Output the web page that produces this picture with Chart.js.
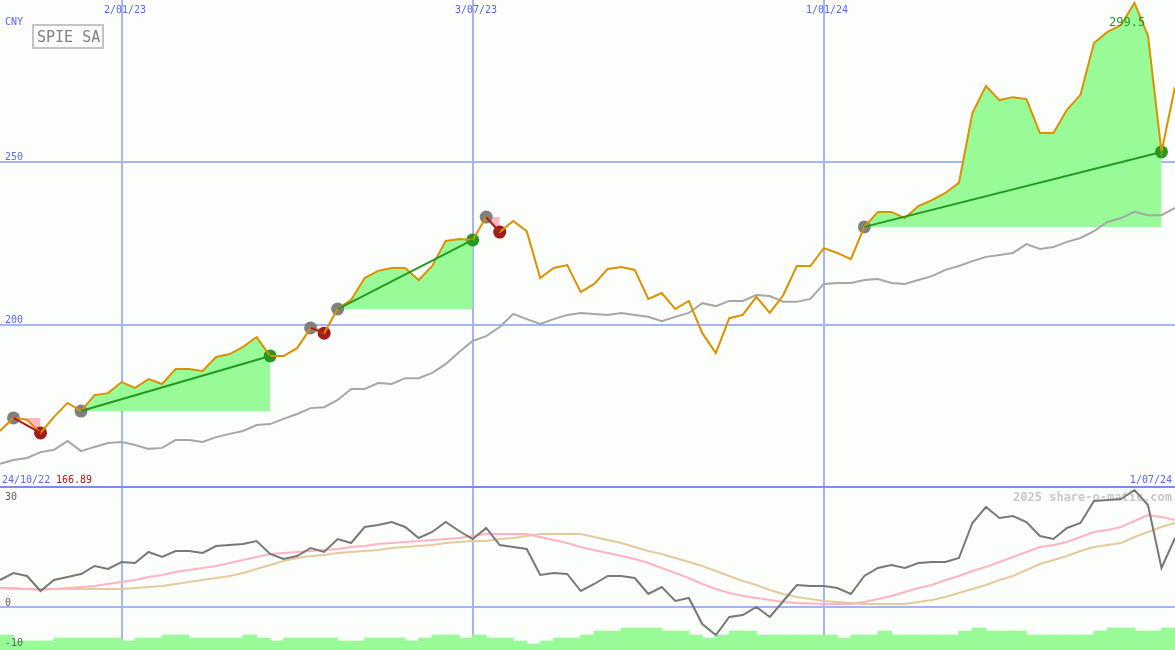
<!DOCTYPE html>
<html>
<head>
<meta charset="utf-8">
<title>SPIE SA</title>
<script src="https://cdn.jsdelivr.net/npm/chart.js"></script>
<style>
  html, body { margin: 0; padding: 0; background: #fcfefc; }
  #wrap { position: relative; width: 1175px; height: 650px; }
  canvas { display: block; }
</style>
</head>
<body>
<div id="wrap"><canvas id="chart" width="1175" height="650"></canvas></div>
<script>
// weekly data, week 0 = 31/10/22 ... week 87 = 1/07/24
const price = [
  167.5, 171.5, 170.9, 166.89, 171.8, 176.1, 173.6, 178.5, 179.1, 182.5,
  180.7, 183.4, 181.9, 186.5, 186.5, 185.9, 190.2, 191.1, 193.3, 196.3,
  190.5, 190.5, 192.9, 199.1, 197.5, 204.9, 207.7, 214.4, 216.6, 217.5,
  217.5, 213.8, 218.1, 225.8, 226.4, 226.1, 233.1, 228.5, 231.9, 228.8,
  214.4, 217.5, 218.4, 210.1, 212.6, 217.2, 217.8, 216.9, 208.0, 209.8,
  204.9, 207.4, 197.5, 191.4, 202.1, 203.1, 208.6, 203.7, 209.2, 218.1,
  218.1, 223.6, 222.1, 220.2, 230.1, 234.7, 234.7, 232.8, 236.5, 238.3,
  240.5, 243.6, 265.0, 273.3, 269.0, 269.9, 269.3, 258.9, 258.9, 266.0,
  270.6, 286.5, 289.9, 292.0, 298.8, 288.7, 253.1, 273.0
];
// grey comparison line
const avg = [
  157.4, 158.6, 159.2, 161.0, 161.7, 164.4, 161.3, 162.6, 163.8, 164.1,
  163.2, 162.0, 162.3, 164.7, 164.7, 164.1, 165.6, 166.6, 167.5, 169.3,
  169.6, 171.2, 172.7, 174.5, 174.8, 177.0, 180.4, 180.4, 182.2, 181.9,
  183.7, 183.7, 185.3, 188.0, 191.7, 195.1, 196.6, 199.4, 203.4, 201.8,
  200.3, 201.8, 203.1, 203.7, 203.4, 203.1, 203.7, 203.1, 202.5, 201.2,
  202.5, 203.7, 206.7, 205.8, 207.4, 207.4, 209.2, 208.9, 207.1, 207.1,
  208.0, 212.6, 212.9, 212.9, 213.8, 214.1, 212.9, 212.6, 213.8, 215.0,
  216.9, 218.1, 219.6, 220.9, 221.5, 222.1, 224.8, 223.3, 223.9, 225.5,
  226.7, 228.8, 231.6, 232.8, 234.7, 233.7, 233.7, 235.9
];
// lower panel
const osc = [
  6.75, 8.5, 7.75, 4.0, 6.75, 7.5, 8.25, 10.25, 9.5, 11.25,
  11.0, 13.75, 12.5, 14.0, 14.0, 13.5, 15.25, 15.5, 15.75, 16.5,
  13.25, 12.0, 12.75, 14.75, 13.75, 17.0, 16.0, 20.0, 20.5, 21.25,
  20.0, 17.25, 18.75, 21.25, 19.0, 17.0, 19.75, 15.5, 15.0, 14.5,
  8.0, 8.5, 8.25, 4.0, 5.75, 7.75, 7.75, 7.25, 3.25, 5.0,
  1.5, 2.25, -4.25, -7.0, -2.5, -2.0, 0, -2.5, 1.5, 5.5,
  5.25, 5.25, 4.75, 3.25, 7.75, 9.75, 10.5, 9.75, 11.0, 11.25,
  11.25, 12.25, 21.0, 25.0, 22.25, 22.75, 21.25, 17.75, 17.0, 19.75,
  21.0, 26.5, 26.75, 27.0, 29.25, 25.5, 9.75, 17.25
];
const oscFast = [
  4.75, 4.5, 4.5, 4.25, 4.5, 4.75, 5.0, 5.25, 5.75, 6.25,
  6.75, 7.5, 8.0, 8.75, 9.25, 9.75, 10.25, 11.0, 11.75, 12.5,
  13.25, 13.5, 13.75, 14.0, 14.25, 14.5, 15.0, 15.25, 15.75, 16.0,
  16.25, 16.5, 16.75, 17.0, 17.25, 17.75, 18.25, 18.25, 18.25, 18.25,
  17.5, 16.75, 16.0, 15.0, 14.25, 13.5, 12.75, 12.0, 11.0, 9.75,
  8.5, 7.25, 5.75, 4.5, 3.5, 2.75, 2.25, 1.75, 1.25, 1.0,
  0.9, 0.75, 0.75, 0.75, 1.25, 2.0, 2.75, 3.75, 4.75, 5.5,
  6.75, 7.75, 9.0, 10.0, 11.25, 12.5, 13.75, 15.0, 15.5, 16.25,
  17.5, 18.75, 19.25, 20.0, 21.5, 23.0, 22.5, 21.75
];
const oscSlow = [
  4.75, 4.75, 4.5, 4.5, 4.5, 4.5, 4.5, 4.5, 4.5, 4.5,
  4.75, 5.0, 5.25, 5.75, 6.25, 6.75, 7.25, 7.75, 8.5, 9.5,
  10.5, 11.5, 12.25, 12.75, 13.0, 13.5, 13.75, 14.0, 14.25, 14.75,
  15.0, 15.25, 15.5, 16.0, 16.25, 16.5, 16.5, 17.0, 17.25, 17.75,
  18.25, 18.25, 18.25, 18.25, 17.5, 16.75, 16.0, 15.0, 14.0, 13.25,
  12.25, 11.25, 10.25, 9.0, 7.75, 6.5, 5.5, 4.25, 3.25, 2.5,
  2.0, 1.5, 1.25, 1.0, 0.75, 0.75, 0.75, 0.75, 1.25, 1.75,
  2.5, 3.5, 4.5, 5.5, 6.75, 7.75, 9.25, 10.75, 11.75, 12.75,
  14.0, 15.0, 15.5, 16.0, 17.5, 18.75, 20.0, 21.0
];
// green bars at the bottom, bar i spans week i..i+1 (top in lower panel units)
const volume = [
  -7.0, -8.5, -8.5, -8.5, -7.75, -7.75, -7.75, -7.75, -7.75, -8.5,
  -7.75, -7.75, -7.0, -7.0, -7.75, -7.75, -7.75, -7.75, -7.0, -7.75,
  -8.5, -7.75, -7.75, -7.75, -7.75, -8.5, -8.5, -7.75, -7.75, -7.75,
  -8.5, -7.75, -7.0, -7.0, -7.75, -7.0, -7.75, -7.75, -8.5, -9.25,
  -8.5, -7.75, -7.75, -7.0, -6.0, -6.0, -5.25, -5.25, -5.25, -6.0,
  -6.0, -7.0, -7.75, -7.0, -6.0, -6.0, -7.0, -7.0, -7.0, -7.0,
  -7.0, -7.0, -7.75, -7.0, -7.0, -6.0, -7.0, -7.0, -7.0, -7.0,
  -7.0, -6.0, -5.25, -6.0, -6.0, -6.0, -7.0, -7.0, -7.0, -7.0,
  -7.0, -6.0, -5.25, -5.25, -6.0, -6.0, -5.25
];
// trade signals (week index of entry and exit)
const signalStart = [1, 6, 23, 25, 36, 64];
const signalEnd = [3, 20, 24, 35, 37, 86];

const dateTickIdx = [9, 35, 61];
const dateTickLabels = ['2/01/23', '3/07/23', '1/01/24'];
const priceTicks = [200, 250];
const oscTicks = [30, 0, -10];

const GREEN = '#229a22', RED = '#a01c1c';
const FILL_UP = '#98fb98', FILL_DOWN = '#ffb6c1';
const BAR_BASE = -11;

function pts(arr) {
  return arr.map((y, i) => ({x: i, y: y}));
}
function segment(arr, a, b) {
  return arr.slice(a, b + 1).map((y, k) => ({x: a + k, y: y}));
}

const datasets = [];

// signal areas and trend lines
signalStart.forEach(function (s, k) {
  const e = signalEnd[k];
  const gain = price[e] >= price[s];
  datasets.push({
    data: segment(price, s, e), yAxisID: 'yP',
    borderWidth: 0, pointRadius: 0,
    backgroundColor: gain ? FILL_UP : FILL_DOWN,
    fill: {value: price[s]}, order: 6
  });
  datasets.push({
    data: [{x: s, y: price[s]}, {x: e, y: price[e]}], yAxisID: 'yP',
    borderColor: gain ? GREEN : RED, borderWidth: 2, pointRadius: 0,
    fill: false, order: 1
  });
});

// markers
datasets.push({
  data: signalStart.map(i => ({x: i, y: price[i]})), yAxisID: 'yP',
  showLine: false, pointRadius: 6.5, pointBorderWidth: 0,
  pointBackgroundColor: '#808080', order: 3
});
datasets.push({
  data: signalEnd.map(i => ({x: i, y: price[i]})), yAxisID: 'yP',
  showLine: false, pointRadius: 6.5, pointBorderWidth: 0,
  pointBackgroundColor: signalEnd.map((e, k) => price[e] >= price[signalStart[k]] ? GREEN : RED),
  order: 3
});

// price + comparison
datasets.push({
  data: pts(price), yAxisID: 'yP', borderColor: '#dd9000', borderWidth: 2,
  pointRadius: 0, fill: false, order: 2
});
datasets.push({
  data: pts(avg), yAxisID: 'yP', borderColor: '#a6a6a6', borderWidth: 2,
  pointRadius: 0, fill: false, order: 5
});

// lower panel
datasets.push({
  data: pts(osc), yAxisID: 'yO', borderColor: '#787878', borderWidth: 2,
  pointRadius: 0, fill: false, order: 7
});
datasets.push({
  data: pts(oscFast), yAxisID: 'yO', borderColor: '#ffb3c3', borderWidth: 2,
  pointRadius: 0, fill: false, order: 8
});
datasets.push({
  data: pts(oscSlow), yAxisID: 'yO', borderColor: '#e3cb9d', borderWidth: 2,
  pointRadius: 0, fill: false, order: 9
});
datasets.push({
  type: 'bar',
  data: volume.map((v, i) => ({x: i + 0.5, y: [BAR_BASE, v]})), yAxisID: 'yO',
  backgroundColor: FILL_UP, borderWidth: 0, barThickness: 14, order: 10
});

//grid, watermark and text
function hline(ctx, y) {
  ctx.beginPath();
  ctx.moveTo(0, y);
  ctx.lineTo(1175, y);
  ctx.stroke();
}

const panelDecor = {
  id: 'panelDecor',
  beforeDatasetsDraw(chart) {
    const {ctx, scales: {x, yP, yO}} = chart;
    ctx.save();
    ctx.lineWidth = 2;
    ctx.strokeStyle = '#a6b4f6';
    dateTickIdx.forEach(function (i) {
      const px = Math.round(x.getPixelForValue(i));
      ctx.beginPath();
      ctx.moveTo(px, 0);
      ctx.lineTo(px, 650);
      ctx.stroke();
    });
    priceTicks.forEach(v => hline(ctx, Math.round(yP.getPixelForValue(v))));
    hline(ctx, Math.round(yO.getPixelForValue(0)));
    ctx.strokeStyle = '#7d8cec';
    hline(ctx, Math.round(yO.getPixelForValue(30)));

    ctx.font = 'bold 12px "DejaVu Sans Mono"';
    ctx.fillStyle = '#c8c8c8';
    ctx.textAlign = 'right';
    ctx.fillText('2025 share-o-matic.com', 1172, 501);
    ctx.restore();
  },
  afterDatasetsDraw(chart) {
    const {ctx, scales: {x, yP, yO}} = chart;
    ctx.save();
    ctx.font = '10px "DejaVu Sans Mono"';
    ctx.textBaseline = 'alphabetic';
    ctx.fillStyle = '#5a64f0';
    ctx.textAlign = 'left';
    ctx.fillText('CNY', 5, 25);
    priceTicks.forEach(v => ctx.fillText(String(v), 5, Math.round(yP.getPixelForValue(v)) - 2));
    ctx.fillText('24/10/22', 2, 483);
    ctx.textAlign = 'center';
    dateTickIdx.forEach(function (i, k) {
      ctx.fillText(dateTickLabels[k], Math.round(x.getPixelForValue(i)) + 3, 13);
    });
    ctx.textAlign = 'right';
    ctx.fillText('1/07/24', 1172, 483);

    ctx.textAlign = 'left';
    ctx.fillStyle = RED;
    ctx.fillText('166.89', 56, 483);

    ctx.fillStyle = '#606060';
    const oscLabelY = {30: 500, 0: 606, '-10': 646};
    oscTicks.forEach(v => ctx.fillText(String(v), 5, oscLabelY[v]));

    ctx.font = '12px "DejaVu Sans Mono"';
    ctx.fillStyle = GREEN;
    ctx.fillText('299.5', 1109, 26);

    // name box
    ctx.strokeStyle = '#c4c4c4';
    ctx.lineWidth = 2;
    ctx.strokeRect(33, 25, 70, 23);
    ctx.font = '15px "DejaVu Sans Mono"';
    ctx.fillStyle = '#808080';
    ctx.fillText('SPIE SA', 37, 42);
    ctx.restore();
  }
};

const chart = new Chart(document.getElementById('chart'), {
  type: 'line',
  data: {datasets: datasets},
  options: {
    responsive: false,
    animation: false,
    devicePixelRatio: 1,
    layout: {padding: 0, autoPadding: false},
    elements: {line: {tension: 0}},
    plugins: {legend: {display: false}, tooltip: {enabled: false}},
    scales: {
      x: {type: 'linear', min: 0, max: 87, display: false, offset: false},
      yP: {type: 'linear', min: 100.3, max: 299.7, display: false},
      yO: {type: 'linear', min: -10.75, max: 151.75, display: false}
    }
  },
  plugins: [panelDecor]
});
</script>
</body>
</html>
